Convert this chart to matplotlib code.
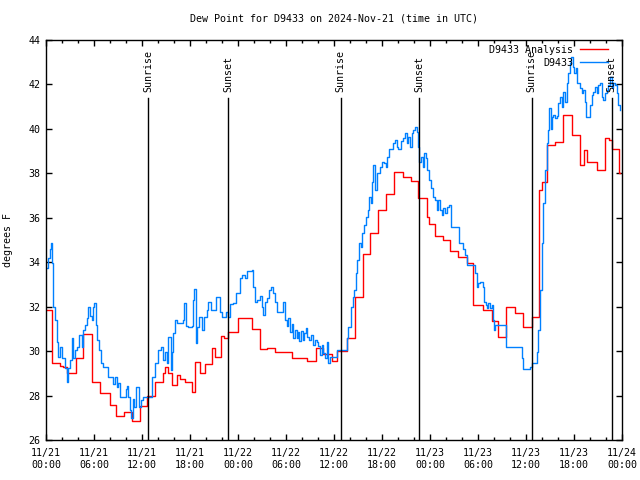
import matplotlib
matplotlib.use("Agg")
import matplotlib.pyplot as plt
import matplotlib.dates as mdates
import matplotlib.transforms as mtransforms
import pandas as pd

# hours after 2024-11-21 00:00 UTC, dew point in deg F
analysis_hours = [0.0, 0.6, 0.75, 1.55, 1.75, 2.1, 2.6, 3.7, 4.65, 5.8, 6.75, 8.0, 8.75, 9.8, 10.8,
                  11.75, 12.65, 13.6, 14.6, 14.9, 15.25, 15.7, 16.35, 16.75, 17.4, 18.3, 18.6, 19.25,
                  19.9, 20.7, 21.1, 21.85, 22.25, 22.8, 24.05, 25.8, 26.75, 27.6, 28.6, 30.7, 32.65,
                  33.7, 34.65, 35.7, 36.4, 37.6, 38.6, 39.6, 40.5, 41.55, 42.5, 43.5, 44.6, 45.6,
                  46.55, 47.6, 47.9, 48.6, 49.65, 50.5, 51.55, 52.6, 53.4, 54.65, 55.7, 56.55, 57.5,
                  58.6, 59.6, 60.7, 61.65, 61.95, 62.6, 63.6, 64.65, 65.7, 66.75, 67.25, 67.65,
                  68.85, 69.9, 70.4, 70.7, 71.65, 71.8]
analysis_vals = [31.85, 31.85, 29.45, 29.45, 29.35, 29.27, 29.0, 29.7, 30.75, 28.62, 28.1, 27.57,
                 27.08, 27.27, 26.85, 27.53, 28.0, 28.62, 29.0, 29.3, 29.0, 28.47, 28.92, 28.75,
                 28.62, 28.17, 29.52, 29.03, 29.4, 30.12, 29.75, 30.68, 30.6, 30.87, 31.47, 31.0,
                 30.09, 30.12, 29.98, 29.68, 29.55, 30.12, 29.87, 29.55, 30.0, 30.57, 32.42, 34.35,
                 35.3, 36.35, 37.05, 38.04, 37.82, 37.67, 36.9, 36.05, 35.72, 35.18, 35.0, 34.5,
                 34.25, 33.95, 32.07, 31.85, 31.35, 30.62, 31.97, 31.7, 31.1, 31.55, 37.25, 37.62,
                 39.27, 39.42, 40.62, 39.72, 38.37, 39.05, 38.49, 38.17, 39.6, 39.5, 39.1, 38.0, 38.0]

obs_hours = [0.0, 0.3, 0.5, 0.6, 0.7, 0.85, 0.9, 1.1, 1.35, 1.55, 1.75, 1.95, 2.4, 2.6, 2.8, 3.0,
             3.2, 3.4, 3.6, 3.85, 4.15, 4.45, 4.65, 4.9, 5.1, 5.3, 5.5, 5.7, 5.9, 6.05, 6.25, 6.4,
             6.65, 6.9, 7.1, 7.7, 8.4, 8.6, 8.85, 9.05, 9.25, 9.95, 10.15, 10.3, 10.5, 10.6, 10.85,
             11.05, 11.25, 11.45, 11.65, 11.85, 12.1, 13.2, 13.6, 14.05, 14.35, 14.65, 14.9, 15.1,
             15.3, 15.6, 15.7, 15.9, 16.1, 16.35, 17.1, 17.25, 17.45, 17.8, 18.2, 18.4, 18.55,
             18.7, 18.9, 19.15, 19.45, 19.75, 20.1, 20.3, 20.6, 21.25, 21.55, 21.75, 21.95, 22.5,
             22.8, 23.0, 23.4, 23.75, 24.25, 24.55, 24.9, 25.15, 25.75, 25.85, 26.1, 26.4, 26.75,
             26.95, 27.15, 27.4, 27.6, 27.9, 28.1, 28.35, 28.6, 28.9, 29.65, 29.9, 30.1, 30.3,
             30.5, 30.7, 30.9, 31.1, 31.35, 31.55, 31.65, 31.85, 32.1, 32.3, 32.5, 32.65, 32.9,
             33.1, 33.35, 33.6, 33.85, 34.05, 34.25, 34.45, 34.65, 34.9, 35.1, 35.3, 35.5, 36.4,
             37.6, 37.8, 38.1, 38.35, 38.5, 38.75, 38.9, 39.1, 39.35, 39.55, 39.75, 40.0, 40.2,
             40.4, 40.6, 40.8, 40.9, 41.1, 41.4, 41.75, 41.95, 42.25, 42.5, 42.65, 42.9, 43.35,
             43.6, 43.85, 44.05, 44.35, 44.6, 44.9, 45.1, 45.3, 45.5, 45.7, 45.9, 46.1, 46.35,
             46.55, 46.65, 46.85, 47.1, 47.25, 47.45, 47.65, 47.9, 48.1, 48.4, 48.6, 48.85, 49.05,
             49.25, 49.45, 49.65, 49.9, 50.15, 50.4, 50.6, 51.65, 52.15, 52.4, 52.6, 53.6, 53.85,
             54.05, 54.25, 54.65, 54.8, 55.0, 55.15, 55.3, 55.5, 55.7, 55.85, 56.0, 56.15, 57.5,
             59.45, 59.6, 60.5, 60.7, 61.35, 61.55, 61.75, 61.95, 62.15, 62.4, 62.6, 62.8, 62.9,
             63.1, 63.2, 63.4, 63.6, 63.85, 64.05, 64.25, 64.45, 64.65, 64.85, 65.1, 65.3, 65.5,
             65.6, 65.85, 66.0, 66.25, 66.4, 66.75, 66.95, 67.15, 67.4, 67.5, 67.8, 68.0, 68.2,
             68.4, 68.6, 68.85, 69.05, 69.25, 69.45, 69.65, 69.85, 70.1, 70.3, 70.5, 70.7, 70.9,
             71.1, 71.35, 71.55, 71.75]
obs_vals = [33.72, 34.17, 34.6, 34.85, 33.95, 32.82, 32.0, 31.4, 30.42, 29.75, 30.2, 29.67, 29.22,
            28.62, 29.22, 29.6, 30.57, 29.67, 30.05, 30.2, 30.72, 30.2, 30.95, 31.17, 31.47, 32.0,
            31.6, 31.4, 32.0, 32.15, 31.17, 30.5, 30.05, 29.45, 29.3, 28.85, 28.52, 28.85, 28.4,
            28.55, 27.95, 28.3, 28.45, 27.95, 27.35, 26.97, 27.85, 27.5, 28.4, 28.4, 27.5, 27.8,
            27.95, 28.85, 29.45, 30.05, 30.2, 29.6, 29.95, 29.45, 30.65, 29.15, 29.95, 30.8, 31.4,
            31.28, 31.4, 32.18, 31.15, 31.1, 31.15, 32.3, 32.78, 30.35, 31.1, 31.55, 30.95, 31.55,
            31.85, 32.22, 31.87, 32.45, 32.45, 31.75, 31.55, 31.75, 31.55, 32.12, 32.18, 32.6,
            33.27, 33.42, 33.27, 33.62, 33.65, 32.9, 32.22, 32.3, 32.48, 32.0, 31.62, 32.2, 32.4,
            32.75, 32.9, 32.6, 32.2, 31.78, 32.2, 31.4, 31.13, 31.5, 30.87, 31.2, 30.57, 30.97,
            30.57, 30.85, 30.45, 30.9, 30.5, 30.82, 31.02, 30.65, 30.5, 30.72, 30.27, 30.5, 30.42,
            30.22, 29.82, 30.27, 29.9, 29.7, 30.42, 29.48, 29.75, 30.05, 30.57, 31.1, 32.0, 32.45,
            32.75, 33.5, 34.1, 34.85, 34.7, 35.3, 35.67, 36.05, 36.35, 36.95, 36.65, 37.62, 38.37,
            37.25, 38.0, 38.3, 38.52, 38.45, 38.3, 38.75, 39.08, 39.38, 39.5, 39.2, 39.1, 39.45,
            39.6, 39.8, 39.35, 39.65, 39.2, 39.8, 39.95, 40.1, 39.88, 39.2, 38.52, 38.75, 38.3,
            38.9, 38.68, 38.15, 37.7, 37.32, 36.95, 36.8, 36.35, 36.8, 36.35, 36.12, 36.42, 36.2,
            36.5, 36.57, 35.6, 34.85, 34.6, 34.32, 33.87, 33.5, 32.9, 33.05, 33.12, 32.9, 32.22,
            32.07, 31.92, 32.15, 31.92, 32.07, 31.4, 30.95, 31.17, 30.2, 29.7, 29.18, 29.3, 29.45,
            29.97, 30.95, 32.75, 34.85, 36.65, 38.15, 39.35, 39.95, 40.92, 40.0, 40.55, 40.62,
            40.47, 40.58, 41.15, 41.45, 41.0, 41.67, 41.22, 42.05, 42.5, 42.95, 43.25, 42.8, 42.5,
            42.72, 42.05, 41.82, 41.6, 41.75, 41.22, 40.55, 40.55, 41.07, 41.52, 41.67, 41.9, 41.6,
            41.97, 42.05, 41.45, 41.3, 41.6, 41.75, 41.97, 42.35, 41.82, 42.05, 41.97, 41.6, 41.07,
            40.85]

sun_times = ["2024-11-21 12:47", "2024-11-21 22:47", "2024-11-22 12:50",
             "2024-11-22 22:40", "2024-11-23 12:43", "2024-11-23 22:43"]
sun_labels = ["Sunrise", "Sunset", "Sunrise", "Sunset", "Sunrise", "Sunset"]

base = pd.Timestamp("2024-11-21 00:00")
t_an = base + pd.to_timedelta(analysis_hours, unit="h")
t_ob = base + pd.to_timedelta(obs_hours, unit="h")

plt.rcParams['font.family'] = 'DejaVu Sans Mono'
fs = 7.2

fig = plt.figure(figsize=(6.4, 4.8), dpi=100)
ax = fig.add_axes([46/640, 40/480, 576/640, 400/480])

ax.plot(t_an, analysis_vals, color='#ff0000', lw=1.0, drawstyle='steps-post', label='D9433 Analysis')
ax.plot(t_ob, obs_vals, color='#0080ff', lw=1.0, drawstyle='steps-post', label='D9433')

trans = mtransforms.blended_transform_factory(ax.transData, ax.transAxes)
for st, lab in zip(sun_times, sun_labels):
    x = mdates.date2num(pd.Timestamp(st))
    ax.plot([x, x], [0, 0.855], color='black', lw=1.0, transform=trans)
    ax.text(x, 0.87, lab, rotation=90, ha='center', va='bottom', fontsize=fs, transform=trans)

ax.set_xlim(base, base + pd.Timedelta(hours=72))
ax.set_ylim(26, 44)
ax.set_yticks(range(26, 45, 2))
ax.xaxis.set_major_locator(mdates.HourLocator(byhour=[0, 6, 12, 18]))
ax.xaxis.set_minor_locator(mdates.HourLocator(interval=2))
ax.xaxis.set_major_formatter(mdates.DateFormatter('%m/%d\n%H:%M'))
ax.tick_params(which='both', direction='in', top=True, right=True, labelsize=fs, width=1)
ax.tick_params(which='major', length=4.5)
ax.tick_params(which='minor', length=2.5)
ax.tick_params(axis='x', pad=6)
ax.tick_params(axis='y', pad=4)
for sp in ax.spines.values():
    sp.set_linewidth(1.0)

ax.set_title('Dew Point for D9433 on 2024-Nov-21 (time in UTC)', fontsize=fs, pad=13)
ax.set_ylabel('degrees F', fontsize=fs)
ax.yaxis.set_label_coords(-0.058, 0.5)

ax.legend(loc='upper right', frameon=False, markerfirst=False, fontsize=fs,
          handlelength=2.8, handletextpad=0.7, labelspacing=0.3,
          bbox_to_anchor=(1.0 - 9/576, 1.0), borderaxespad=0.3, borderpad=0.2)

fig.savefig('out.png', dpi=100)
